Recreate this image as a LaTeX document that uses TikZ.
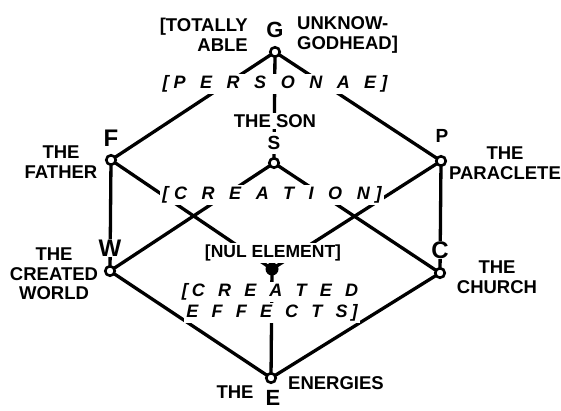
\documentclass[tikz,border=0pt]{standalone}
\usepackage{fontspec}
\setmainfont{Liberation Sans}
\pgfdeclarelayer{bg}
\pgfsetlayers{bg,main}
\newcommand\myital{\bfseries\itshape\fontsize{18}{18}\selectfont}
\newcommand\spc[2]{{\spaceskip=#1\relax #2}}
\begin{document}
\begin{tikzpicture}[x=1pt,y=-1pt,
  vtx/.style={circle,draw,fill=white,line width=2.6pt,minimum size=9.5pt,inner sep=0pt},
  nul/.style={circle,fill=black,minimum size=13pt,inner sep=0pt},
  edge/.style={line width=3.3pt},
  lab/.style={font=\bfseries\fontsize{18.5}{19.5}\selectfont, inner sep=1pt, align=center},
  big/.style={font=\bfseries\fontsize{24}{24}\selectfont, inner sep=0.5pt},
  mid/.style={font=\bfseries\fontsize{19}{19}\selectfont, inner sep=0.5pt},
  nullab/.style={font=\bfseries\fontsize{17.5}{18}\selectfont, inner sep=1.5pt},
  ital/.style={font=\myital, inner sep=2pt},
  mask/.style={fill=white}
]
\useasboundingbox (0,0) rectangle (561,411);
% vertices
\node[vtx] (G) at (275,52) {};
\node[vtx] (F) at (111,160) {};
\node[vtx] (S) at (274,163) {};
\node[vtx] (P) at (441,161) {};
\node[vtx] (W) at (110,271) {};
\node[nul] (N) at (272,269) {};
\node[vtx] (C) at (440,273) {};
\node[vtx] (E) at (271,378) {};
% edges
\begin{pgfonlayer}{bg}
\draw[edge] (G.center) -- (F.center);
\draw[edge] (G.center) -- (S.center);
\draw[edge] (G.center) -- (P.center);
\draw[edge] (F.center) -- (W.center);
\draw[edge] (F.center) -- (N.center);
\draw[edge] (S.center) -- (W.center);
\draw[edge] (S.center) -- (C.center);
\draw[edge] (P.center) -- (N.center);
\draw[edge] (P.center) -- (C.center);
\draw[edge] (W.center) -- (E.center);
\draw[edge] (N.center) -- (E.center);
\draw[edge] (C.center) -- (E.center);
\end{pgfonlayer}
% labels
\node[lab, anchor=east, align=right] (tot) at (249,35) {[TOTALLY\\ABLE};
\node[lab, anchor=west, align=left] (unk) at (296,35) {UNKNOW-\\GODHEAD]};
\node[font=\bfseries\fontsize{22}{22}\selectfont, inner sep=0.5pt] (Gl) at (275,30) {G};
\node[ital, mask] (pers) at (275,84) {\spc{14.5pt}{[\kern5pt P E R S O N A E\kern5pt]}};
\node[lab, mask] (son) at (275,121) {THE SON};
\node[mid, mask, inner ysep=4pt] (Sl) at (274,143) {S};
\node[big] (Fl) at (111,138) {F};
\node[lab] (fath) at (61,162) {THE\\FATHER};
\node[mid] (Pl) at (442,136) {P};
\node[lab] (para) at (505,163) {THE\\PARACLETE};
\node[ital, mask] (crea) at (272,195) {\spc{14.5pt}{[\kern6pt C R E A T I O N\kern6pt]}};
\node[big, mask] (Wl) at (110,248) {W};
\node[lab] (cw) at (54,274) {THE\\CREATED\\WORLD};
\node[nullab, mask] (nl) at (273,253) {[NUL ELEMENT]};
\node[big, mask] (Cl) at (440,250) {C};
\node[lab] (ch) at (497,277) {THE\\CHURCH};
\node[ital, mask] (ce1) at (270,292) {\spc{13.2pt}{[\kern4pt C R E A T E D}};
\node[ital, mask] (ce2) at (272,313) {\spc{13.2pt}{E F F E C T S\kern4pt]}};
\node[font=\bfseries\fontsize{22}{22}\selectfont, inner sep=0.5pt] (El) at (273,398) {E};
\node[lab] (the) at (235,392) {THE};
\node[lab] (en) at (336,383) {ENERGIES};
\end{tikzpicture}
\end{document}
